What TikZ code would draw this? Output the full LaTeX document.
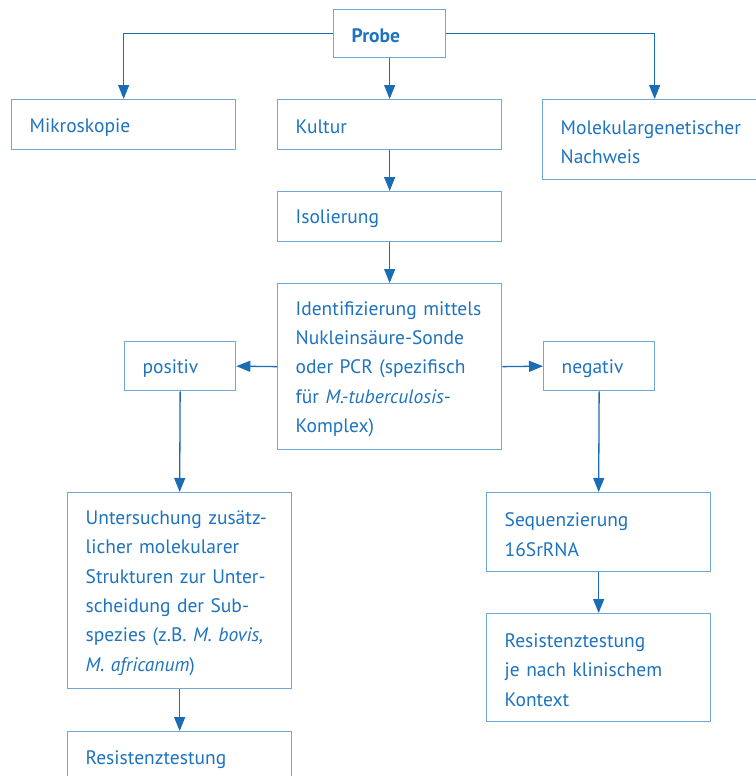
\documentclass[tikz,border=0pt]{standalone}
\usepackage{fontspec}
\setmainfont{PT Sans}
\usetikzlibrary{arrows.meta}
\definecolor{linkblue}{HTML}{1A6CB5}
\definecolor{frameblue}{HTML}{6FA8D8}
\definecolor{inkblue}{HTML}{1E73BE}
\tikzset{
  flowbox/.style={draw=frameblue, line width=1.3pt, rectangle, anchor=north west,
    inner sep=0pt},
  flowtext/.style={inner sep=0pt, align=left, text=inkblue, yshift=-2.5pt,
    font=\fontsize{19.5}{29.4}\selectfont},
  link/.style={draw=linkblue, line width=1.3pt,
    -{Triangle[length=14pt,width=11pt]}}
}
% frame with its text: name, left, top, width, height, text
\newcommand{\boxat}[6]{%
  \node[flowbox, minimum width=#4pt, minimum height=#5pt] (#1) at (#2,#3) {};
  \node[flowtext, text width=#4pt-36pt] (#1-text) at (#1.center) {#6};}
\begin{document}
\begin{tikzpicture}[x=1pt,y=-1pt]
\useasboundingbox (0,0) rectangle (755,776);

\boxat{probe}{333}{9}{112}{48}{\textbf{Probe}}
\boxat{mikro}{11}{99}{224}{50}{Mikroskopie}
\boxat{kultur}{277}{99}{224}{50}{Kultur}
\boxat{molek}{542}{99}{224}{80}{Molekulargenetischer\\Nachweis}
\boxat{isol}{277}{191}{224}{50}{Isolierung}
\boxat{ident}{277}{283}{224}{166}{Identifizierung mittels\\Nukleinsäure-Sonde\\oder PCR (spezifisch\\für \textit{M.-tuberculosis}-\\Komplex)}
\boxat{positiv}{124}{341}{111}{49}{positiv}
\boxat{negativ}{543}{341}{111}{49}{negativ}
\boxat{unters}{67}{492}{224}{196}{Untersuchung zusätz-\\licher molekularer\\Strukturen zur Unter-\\scheidung der Sub-\\spezies (z.B. \textit{M. bovis,}\\\textit{M. africanum})}
\boxat{resl}{67}{731}{224}{52}{Resistenztestung}
\boxat{seq}{486}{492}{224}{79}{Sequenzierung\\16SrRNA}
\boxat{resr}{486}{613}{224}{108}{Resistenztestung\\je nach klinischem\\Kontext}

% connectors
\draw[link] (probe.west) -| (mikro.north);
\draw[link] (probe.east) -| (molek.north);
\draw[link] (probe.south) -- (kultur.north);
\draw[link] (kultur.south) -- (isol.north);
\draw[link] (isol.south) -- (ident.north);
\draw[link] (ident.west) -- (positiv.east);
\draw[link] (ident.east) -- (negativ.west);
\draw[link] (positiv.south) -- (unters.north);
\draw[link] (negativ.south) -- (seq.north);
\draw[link] (unters.south) -- (resl.north);
\draw[link] (seq.south) -- (resr.north);
\end{tikzpicture}
\end{document}
